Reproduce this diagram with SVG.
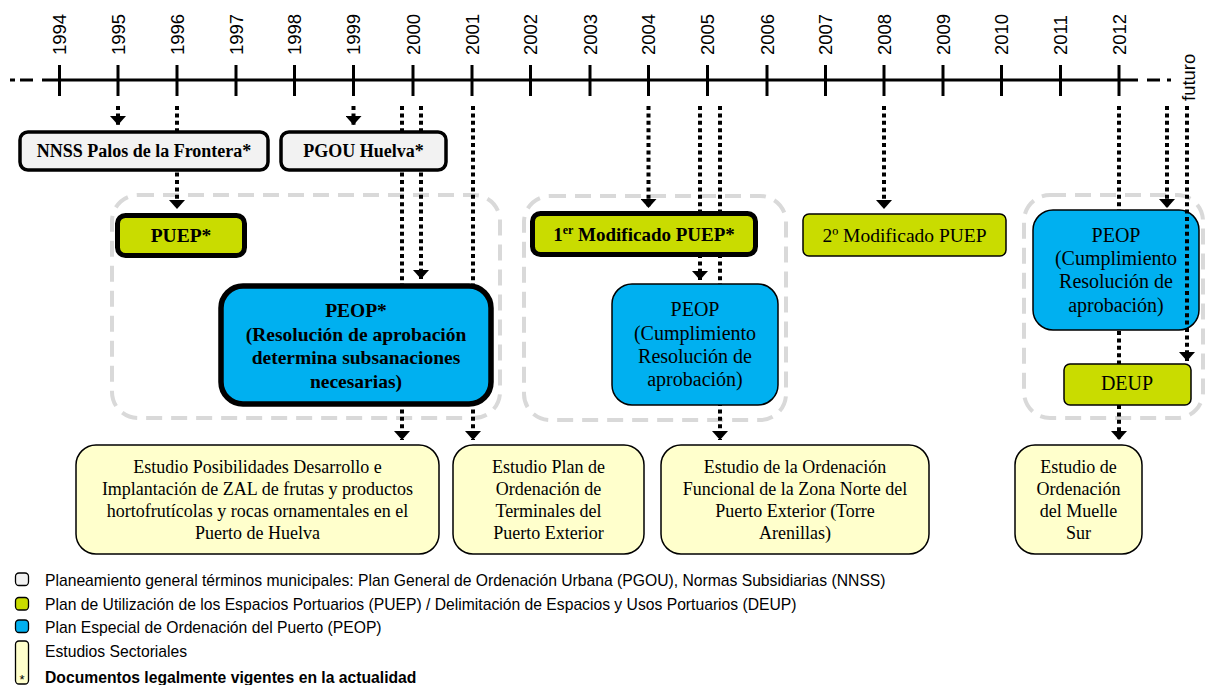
<svg xmlns="http://www.w3.org/2000/svg" width="1207" height="685" viewBox="0 0 1207 685">
<style>
.axis{stroke:#000;stroke-width:3;fill:none}
.year{font-family:"Liberation Sans",Arial,sans-serif;font-size:18.5px;fill:#000}
.cont{fill:none;stroke:#d9d9d9;stroke-width:4;stroke-dasharray:16 9}
.dot{fill:none;stroke:#000;stroke-width:4;stroke-dasharray:4 3.4}
.gray{fill:#f2f2f2;stroke:#000;stroke-width:3.5}
.lime{fill:#c9dc00;stroke:#000}
.blue{fill:#00b0f0;stroke:#000}
.study{fill:#ffffcc;stroke:#000;stroke-width:1.5}
.tb{font-family:"Liberation Serif","Times New Roman",serif;font-weight:bold;fill:#000;text-anchor:middle}
.tr{font-family:"Liberation Serif","Times New Roman",serif;fill:#000;text-anchor:middle}
.leg{font-family:"Liberation Sans",Arial,sans-serif;font-size:15.7px;fill:#000}
.lsq{stroke:#000;stroke-width:1.3}
</style>
<defs>
<marker id="ah" viewBox="0 -8 9 16" refX="9" refY="0" markerWidth="9" markerHeight="16" markerUnits="userSpaceOnUse" orient="auto">
<path d="M0,-8 L9,0 L0,8 z" fill="#000"/>
</marker>
</defs>

<g id="timeline">
<line class="axis" x1="10" y1="80" x2="15" y2="80"/>
<line class="axis" x1="20" y1="80" x2="33" y2="80"/>
<line class="axis" x1="42" y1="80" x2="1138" y2="80"/>
<line class="axis" x1="1147" y1="80" x2="1160" y2="80"/>
<line class="axis" x1="1167" y1="80" x2="1171" y2="80"/>
<g class="axis">
<line x1="59.5" y1="65" x2="59.5" y2="96"/><line x1="118" y1="65" x2="118" y2="96"/><line x1="177" y1="65" x2="177" y2="96"/><line x1="236" y1="65" x2="236" y2="96"/><line x1="294.5" y1="65" x2="294.5" y2="96"/><line x1="353.5" y1="65" x2="353.5" y2="96"/><line x1="413" y1="65" x2="413" y2="96"/><line x1="472" y1="65" x2="472" y2="96"/><line x1="530.5" y1="65" x2="530.5" y2="96"/><line x1="590" y1="65" x2="590" y2="96"/><line x1="648.5" y1="65" x2="648.5" y2="96"/><line x1="707.5" y1="65" x2="707.5" y2="96"/><line x1="767" y1="65" x2="767" y2="96"/><line x1="825.5" y1="65" x2="825.5" y2="96"/><line x1="884" y1="65" x2="884" y2="96"/><line x1="943" y1="65" x2="943" y2="96"/><line x1="1001.5" y1="65" x2="1001.5" y2="96"/><line x1="1060.5" y1="65" x2="1060.5" y2="96"/><line x1="1119" y1="65" x2="1119" y2="96"/>
</g>
<g class="year">
<text transform="translate(66,55) rotate(-90)">1994</text>
<text transform="translate(124.5,55) rotate(-90)">1995</text>
<text transform="translate(183.5,55) rotate(-90)">1996</text>
<text transform="translate(242.5,55) rotate(-90)">1997</text>
<text transform="translate(301,55) rotate(-90)">1998</text>
<text transform="translate(360,55) rotate(-90)">1999</text>
<text transform="translate(419.5,55) rotate(-90)">2000</text>
<text transform="translate(478.5,55) rotate(-90)">2001</text>
<text transform="translate(537,55) rotate(-90)">2002</text>
<text transform="translate(596.5,55) rotate(-90)">2003</text>
<text transform="translate(655,55) rotate(-90)">2004</text>
<text transform="translate(714,55) rotate(-90)">2005</text>
<text transform="translate(773.5,55) rotate(-90)">2006</text>
<text transform="translate(832,55) rotate(-90)">2007</text>
<text transform="translate(890.5,55) rotate(-90)">2008</text>
<text transform="translate(949.5,55) rotate(-90)">2009</text>
<text transform="translate(1008,55) rotate(-90)">2010</text>
<text transform="translate(1067,55) rotate(-90)">2011</text>
<text transform="translate(1125.5,55) rotate(-90)">2012</text>
<text transform="translate(1195,101) rotate(-90)">futuro</text>
</g>
</g>

<g id="containers">
<rect class="cont" x="112" y="195" width="388" height="223" rx="26"/>
<rect class="cont" x="524" y="196" width="262" height="224" rx="26"/>
<rect class="cont" x="1024" y="195" width="179" height="223" rx="26"/>
</g>

<g id="peop3">
<rect class="blue" x="1033" y="210" width="166" height="120" rx="20" stroke-width="1.5"/>
<text class="tr" font-size="20" x="1116" y="242">PEOP</text>
<text class="tr" font-size="20" x="1116" y="265">(Cumplimiento</text>
<text class="tr" font-size="20" x="1116" y="288">Resolución de</text>
<text class="tr" font-size="20" x="1116" y="312">aprobación)</text>
</g>

<g id="connectors">
<path class="dot" d="M118,106 V125" marker-end="url(#ah)"/>
<path class="dot" d="M177,106 V209" marker-end="url(#ah)"/>
<path class="dot" d="M353.5,106 V125" marker-end="url(#ah)"/>
<path class="dot" d="M402,106 V440" marker-end="url(#ah)"/>
<path class="dot" d="M421,106 V279" marker-end="url(#ah)"/>
<path class="dot" d="M473,106 V440" marker-end="url(#ah)"/>
<path class="dot" d="M648.5,106 V208" marker-end="url(#ah)"/>
<path class="dot" d="M700,106 V280" marker-end="url(#ah)"/>
<path class="dot" d="M720,106 V440" marker-end="url(#ah)"/>
<path class="dot" d="M884,106 V209" marker-end="url(#ah)"/>
<path class="dot" d="M1119,106 V210"/>
<path class="dot" d="M1119,331 V440" marker-end="url(#ah)"/>
<path class="dot" d="M1167,106 V208" marker-end="url(#ah)"/>
<path class="dot" d="M1187,106 V361" marker-end="url(#ah)"/>
</g>

<g id="nnss">
<rect class="gray" x="20" y="132" width="248" height="38" rx="8"/>
<text class="tb" font-size="18" x="144" y="157">NNSS Palos de la Frontera*</text>
</g>
<g id="pgou">
<rect class="gray" x="281" y="132" width="165" height="38" rx="8"/>
<text class="tb" font-size="18" x="363.5" y="157">PGOU Huelva*</text>
</g>
<g id="puep">
<rect class="lime" x="117.5" y="215.5" width="127" height="40" rx="8" stroke-width="5"/>
<text class="tb" font-size="19.5" x="181" y="242">PUEP*</text>
</g>
<g id="peop1">
<rect class="blue" x="221" y="286" width="270" height="118" rx="22" stroke-width="5.5"/>
<text class="tb" font-size="19.5" x="356" y="317">PEOP*</text>
<text class="tb" font-size="19.5" x="356" y="341">(Resolución de aprobación</text>
<text class="tb" font-size="19.5" x="356" y="364">determina subsanaciones</text>
<text class="tb" font-size="19.5" x="356" y="388">necesarias)</text>
</g>
<g id="mod1">
<rect class="lime" x="532.5" y="213.5" width="223" height="41" rx="8" stroke-width="5"/>
<text class="tb" font-size="19" x="644" y="241">1<tspan font-size="12" dy="-7">er</tspan><tspan dy="7"> Modificado PUEP*</tspan></text>
</g>
<g id="peop2">
<rect class="blue" x="612" y="284" width="166" height="121" rx="20" stroke-width="1.5"/>
<text class="tr" font-size="20" x="695" y="316">PEOP</text>
<text class="tr" font-size="20" x="695" y="340">(Cumplimiento</text>
<text class="tr" font-size="20" x="695" y="363">Resolución de</text>
<text class="tr" font-size="20" x="695" y="386">aprobación)</text>
</g>
<g id="mod2">
<rect class="lime" x="803" y="214" width="203" height="42" rx="6" stroke-width="1.5"/>
<text class="tr" font-size="19.5" x="904.5" y="242">2º Modificado PUEP</text>
</g>
<g id="deup">
<rect class="lime" x="1064" y="364" width="127" height="41" rx="6" stroke-width="1.5"/>
<text class="tr" font-size="20" x="1127" y="390">DEUP</text>
</g>

<g id="study1">
<rect class="study" x="76" y="445" width="363" height="109" rx="20"/>
<text class="tr" font-size="18" x="257.5" y="473">Estudio Posibilidades Desarrollo e</text>
<text class="tr" font-size="18" x="257.5" y="495">Implantación de ZAL de frutas y productos</text>
<text class="tr" font-size="18" x="257.5" y="517">hortofrutícolas y rocas ornamentales en el</text>
<text class="tr" font-size="18" x="257.5" y="539">Puerto de Huelva</text>
</g>
<g id="study2">
<rect class="study" x="453" y="445" width="191" height="109" rx="20"/>
<text class="tr" font-size="18" x="548.5" y="473">Estudio Plan de</text>
<text class="tr" font-size="18" x="548.5" y="495">Ordenación de</text>
<text class="tr" font-size="18" x="548.5" y="517">Terminales del</text>
<text class="tr" font-size="18" x="548.5" y="539">Puerto Exterior</text>
</g>
<g id="study3">
<rect class="study" x="661" y="445" width="268" height="109" rx="20"/>
<text class="tr" font-size="18" x="795" y="473">Estudio de la Ordenación</text>
<text class="tr" font-size="18" x="795" y="495">Funcional de la Zona Norte del</text>
<text class="tr" font-size="18" x="795" y="517">Puerto Exterior (Torre</text>
<text class="tr" font-size="18" x="795" y="539">Arenillas)</text>
</g>
<g id="study4">
<rect class="study" x="1015" y="445" width="127" height="109" rx="20"/>
<text class="tr" font-size="18" x="1078.5" y="473">Estudio de</text>
<text class="tr" font-size="18" x="1078.5" y="495">Ordenación</text>
<text class="tr" font-size="18" x="1078.5" y="517">del Muelle</text>
<text class="tr" font-size="18" x="1078.5" y="539">Sur</text>
</g>

<g id="legend">
<rect class="lsq" x="15.5" y="573" width="13" height="12.5" rx="3.5" fill="#f2f2f2"/>
<rect class="lsq" x="15.5" y="597.5" width="13" height="12.5" rx="3.5" fill="#c9dc00"/>
<rect class="lsq" x="15.5" y="620" width="13" height="12.5" rx="3.5" fill="#00b0f0"/>
<rect class="lsq" x="15.5" y="641" width="13" height="43" rx="3.5" fill="#ffffcc"/>
<text x="22" y="684" font-family="Liberation Sans,Arial,sans-serif" font-size="13" text-anchor="middle">*</text>
<text class="leg" x="45" y="586">Planeamiento general términos municipales: Plan General de Ordenación Urbana (PGOU), Normas Subsidiarias (NNSS)</text>
<text class="leg" x="45" y="610">Plan de Utilización de los Espacios Portuarios (PUEP) / Delimitación de Espacios y Usos Portuarios (DEUP)</text>
<text class="leg" x="45" y="633">Plan Especial de Ordenación del Puerto (PEOP)</text>
<text class="leg" x="45" y="657">Estudios Sectoriales</text>
<text class="leg" x="45" y="683" font-weight="bold">Documentos legalmente vigentes en la actualidad</text>
</g>
</svg>
